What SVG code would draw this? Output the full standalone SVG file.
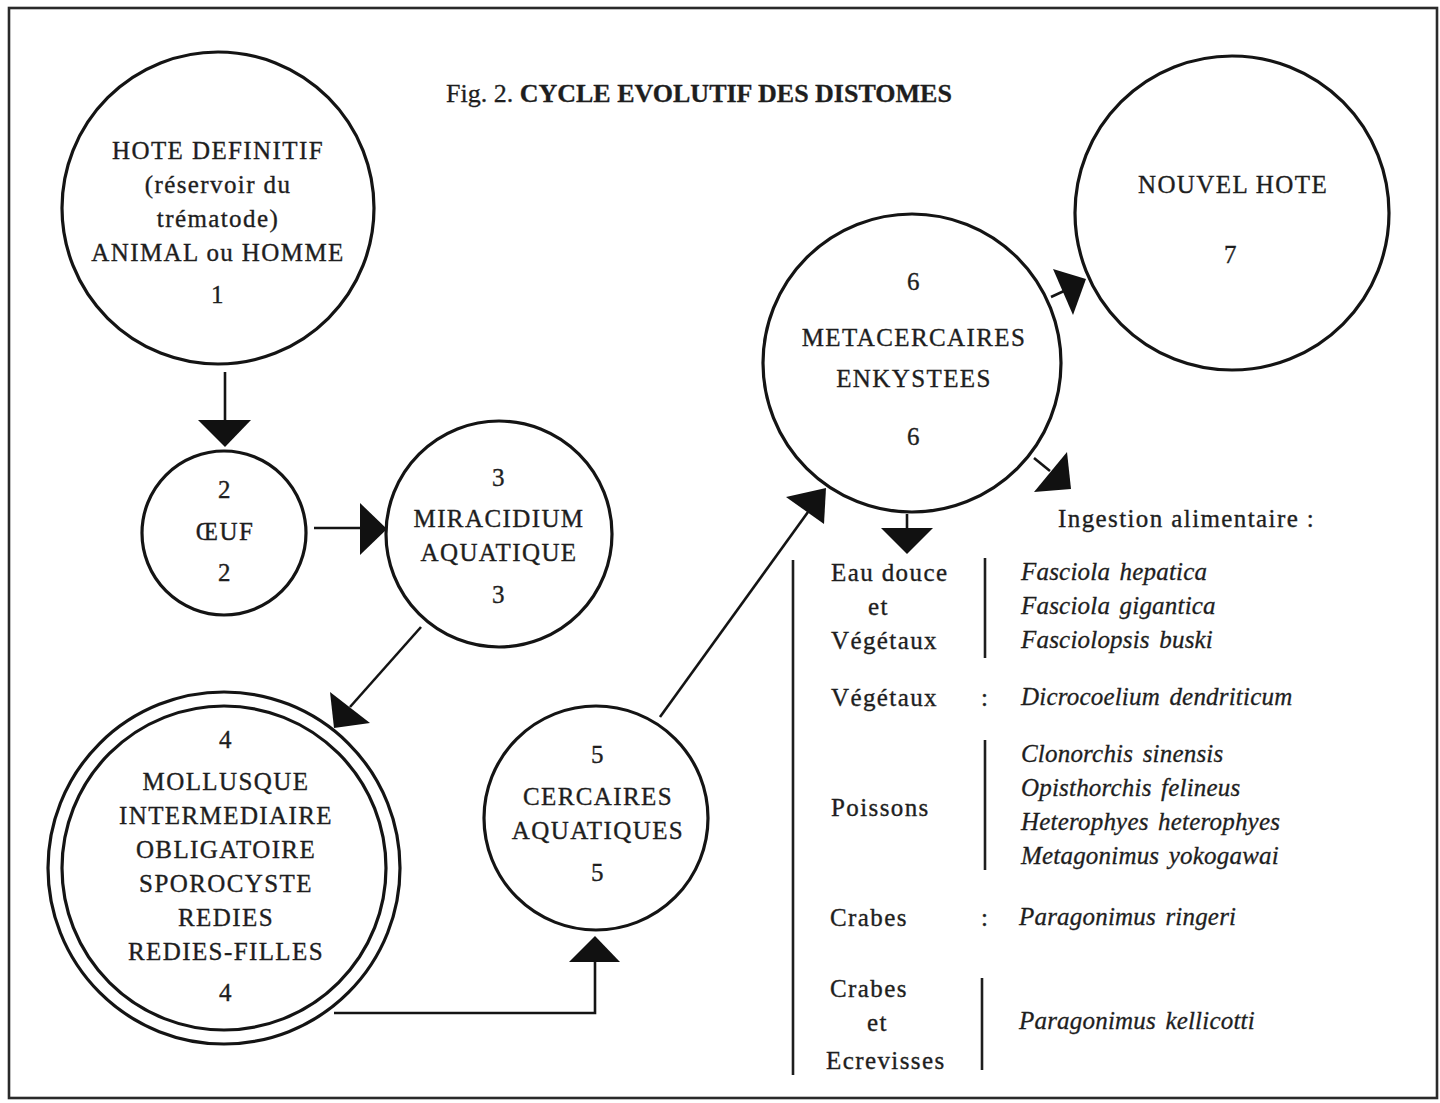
<svg xmlns="http://www.w3.org/2000/svg" width="1440" height="1103" viewBox="0 0 1440 1103">
<style>
.bg{fill:#ffffff}
.frame{fill:none;stroke:#2a2a2a;stroke-width:2.6}
.node{fill:#ffffff;stroke:#141414;stroke-width:3.2}
.t{font-family:"Liberation Serif","Times New Roman",serif;font-size:25px;fill:#1e1e1e;stroke:#1e1e1e;stroke-width:0.35px;letter-spacing:1.4px;text-anchor:middle}
.tl{font-family:"Liberation Serif","Times New Roman",serif;font-size:25px;fill:#1e1e1e;stroke:#1e1e1e;stroke-width:0.35px;letter-spacing:1.4px}
.ti{font-family:"Liberation Serif","Times New Roman",serif;font-size:25px;font-style:italic;fill:#1e1e1e;stroke:#1e1e1e;stroke-width:0.3px;letter-spacing:0.2px;word-spacing:3px}
.title{font-family:"Liberation Serif","Times New Roman",serif;font-size:26px;fill:#1e1e1e;stroke:#1e1e1e;stroke-width:0.3px}
.line{fill:none;stroke:#141414;stroke-width:2.6}
.head{fill:#111111;stroke:none}
.bar{fill:none;stroke:#1e1e1e;stroke-width:2.6}
</style>
<rect class="bg" x="0" y="0" width="1440" height="1103"/>
<rect class="frame" x="9" y="8" width="1428" height="1090"/>
<text class="title" x="446" y="102">Fig. 2. <tspan font-weight="bold">CYCLE EVOLUTIF DES DISTOMES</tspan></text>

<g id="connectors">
  <line class="line" x1="225" y1="372" x2="225" y2="422"/>
  <polygon class="head" points="198,420 251,420 225,447"/>
  <line class="line" x1="314" y1="528" x2="362" y2="528"/>
  <polygon class="head" points="360,503 360,555 387,529"/>
  <line class="line" x1="421" y1="627" x2="350" y2="707"/>
  <polygon class="head" points="330,692 370,723 334,728"/>
  <polyline class="line" points="334,1013 595,1013 595,960"/>
  <polygon class="head" points="569,962 620,962 595,936"/>
  <line class="line" x1="660" y1="717" x2="808" y2="512"/>
  <polygon class="head" points="786,497 826,488 824,524"/>
  <line class="line" x1="1051" y1="297" x2="1064" y2="291"/>
  <polygon class="head" points="1053,269 1086,279 1073,315"/>
  <line class="line" x1="1034" y1="458" x2="1050" y2="471"/>
  <polygon class="head" points="1067,452 1071,489 1034,492"/>
  <line class="line" x1="907" y1="514" x2="907" y2="530"/>
  <polygon class="head" points="881,528 933,528 907,554"/>
</g>

<g id="node1">
  <circle class="node" cx="218" cy="208" r="156"/>
  <text class="t" x="218" y="159">HOTE DEFINITIF</text>
  <text class="t" x="218" y="193">(réservoir du</text>
  <text class="t" x="218" y="227">trématode)</text>
  <text class="t" x="218" y="261">ANIMAL ou HOMME</text>
  <text class="t" x="218" y="303">1</text>
</g>

<g id="node2">
  <circle class="node" cx="224" cy="533" r="82"/>
  <text class="t" x="225" y="498">2</text>
  <text class="t" x="225" y="540">ŒUF</text>
  <text class="t" x="225" y="581">2</text>
</g>

<g id="node3">
  <circle class="node" cx="499" cy="534" r="113"/>
  <text class="t" x="499" y="486">3</text>
  <text class="t" x="499" y="527">MIRACIDIUM</text>
  <text class="t" x="499" y="561">AQUATIQUE</text>
  <text class="t" x="499" y="603">3</text>
</g>

<g id="node4">
  <circle class="node" cx="224" cy="868" r="176"/>
  <circle class="node" cx="224" cy="868" r="162"/>
  <text class="t" x="226" y="748">4</text>
  <text class="t" x="226" y="790">MOLLUSQUE</text>
  <text class="t" x="226" y="824">INTERMEDIAIRE</text>
  <text class="t" x="226" y="858">OBLIGATOIRE</text>
  <text class="t" x="226" y="892">SPOROCYSTE</text>
  <text class="t" x="226" y="926">REDIES</text>
  <text class="t" x="226" y="960">REDIES-FILLES</text>
  <text class="t" x="226" y="1001">4</text>
</g>

<g id="node5">
  <circle class="node" cx="596" cy="818" r="112"/>
  <text class="t" x="598" y="763">5</text>
  <text class="t" x="598" y="805">CERCAIRES</text>
  <text class="t" x="598" y="839">AQUATIQUES</text>
  <text class="t" x="598" y="881">5</text>
</g>

<g id="node6">
  <circle class="node" cx="912" cy="363" r="149"/>
  <text class="t" x="914" y="290">6</text>
  <text class="t" x="914" y="346">METACERCAIRES</text>
  <text class="t" x="914" y="387">ENKYSTEES</text>
  <text class="t" x="914" y="445">6</text>
</g>

<g id="node7">
  <circle class="node" cx="1232" cy="213" r="157"/>
  <text class="t" x="1233" y="193">NOUVEL HOTE</text>
  <text class="t" x="1231" y="263">7</text>
</g>

<g id="table">
  <text class="tl" x="1058" y="527" letter-spacing="0.6">Ingestion alimentaire :</text>
  <line class="bar" x1="793" y1="560" x2="793" y2="1075"/>

  <text class="tl" x="831" y="581">Eau douce</text>
  <text class="tl" x="868" y="615">et</text>
  <text class="tl" x="831" y="649">Végétaux</text>
  <line class="bar" x1="985" y1="558" x2="985" y2="658"/>
  <text class="ti" x="1021" y="580">Fasciola hepatica</text>
  <text class="ti" x="1021" y="614">Fasciola gigantica</text>
  <text class="ti" x="1021" y="648">Fasciolopsis buski</text>

  <text class="tl" x="831" y="706">Végétaux</text>
  <text class="tl" x="981" y="706">:</text>
  <text class="ti" x="1021" y="705">Dicrocoelium dendriticum</text>

  <text class="tl" x="831" y="816">Poissons</text>
  <line class="bar" x1="985" y1="740" x2="985" y2="870"/>
  <text class="ti" x="1021" y="762">Clonorchis sinensis</text>
  <text class="ti" x="1021" y="796">Opisthorchis felineus</text>
  <text class="ti" x="1021" y="830">Heterophyes heterophyes</text>
  <text class="ti" x="1021" y="864">Metagonimus yokogawai</text>

  <text class="tl" x="830" y="926">Crabes</text>
  <text class="tl" x="981" y="926">:</text>
  <text class="ti" x="1019" y="925">Paragonimus ringeri</text>

  <text class="tl" x="830" y="997">Crabes</text>
  <text class="tl" x="867" y="1031">et</text>
  <text class="tl" x="826" y="1069">Ecrevisses</text>
  <line class="bar" x1="982" y1="978" x2="982" y2="1070"/>
  <text class="ti" x="1019" y="1029">Paragonimus kellicotti</text>
</g>
</svg>
